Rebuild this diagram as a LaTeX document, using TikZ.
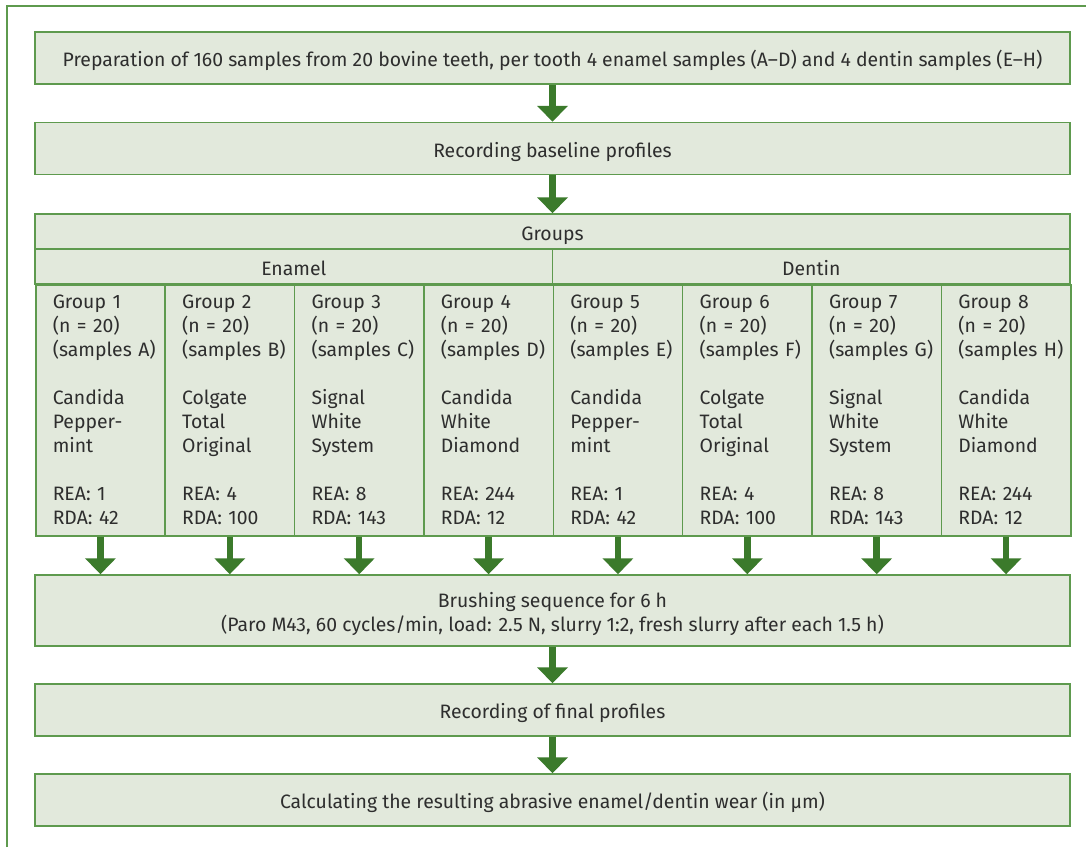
\documentclass[tikz,border=0pt]{standalone}
\usepackage{fontspec}
\setmainfont{Fira Sans}
\usepackage{tikz}
\usetikzlibrary{arrows.meta}
\definecolor{boxfill}{HTML}{E2E9DC}
\definecolor{boxline}{HTML}{5E9A4E}
\definecolor{arrgreen}{HTML}{3B7A2B}
\definecolor{txtgray}{HTML}{2E2E2E}

\begin{document}
\begin{tikzpicture}[x=1pt,y=1pt]
\tikzstyle{every node}+=[inner sep=0pt, text=txtgray, font=\fontsize{19.4}{24}\selectfont]
\tikzstyle{box}=[draw=boxline, fill=boxfill, line width=1.5pt, minimum width=1035pt, align=center, text height=18pt, text depth=1pt]
\tikzstyle{cell}=[draw=boxline, fill=boxfill, line width=1.5pt, anchor=north west, minimum height=251pt, text width=95.375pt, inner xsep=17pt, align=left]
\tikzstyle{flow}=[arrgreen, line width=6.5pt, -{Triangle[width=30pt,length=16pt]}]
\useasboundingbox (0,0) rectangle (1086,-847);
\draw [boxline, line width=1.5pt] (7,-847) -- (7,-6) -- (1086,-6);
% main boxes
\node [box, minimum height=52pt] (prep) at (552.5,-58) {Preparation of 160 samples from 20 bovine teeth, per tooth 4 enamel samples (A–D) and 4 dentin samples (E–H)};
\node [box, minimum height=52pt] (base) at (552.5,-148.5) {Recording baseline profiles};
\node [box, minimum height=35pt] (groups) at (552.5,-231.5) {Groups};
\node [box, minimum width=517.5pt, minimum height=35pt] (enamel) at (293.75,-266.5) {Enamel};
\node [box, minimum width=517.5pt, minimum height=35pt] (dentin) at (811.25,-266.5) {Dentin};
% group cells
\node [cell] (g1) at (35,-284) {Group~1\\(n~=~20)\\(samples~A)\\[24pt]Candida\\Pepper-\\mint\\[24pt]REA:~1\\RDA:~42};
\node [cell] (g2) at (164.375,-284) {Group~2\\(n~=~20)\\(samples~B)\\[24pt]Colgate\\Total\\Original\\[24pt]REA:~4\\RDA:~100};
\node [cell] (g3) at (293.75,-284) {Group~3\\(n~=~20)\\(samples~C)\\[24pt]Signal\\White\\System\\[24pt]REA:~8\\RDA:~143};
\node [cell] (g4) at (423.125,-284) {Group~4\\(n~=~20)\\(samples~D)\\[24pt]Candida\\White\\Diamond\\[24pt]REA:~244\\RDA:~12};
\node [cell] (g5) at (552.5,-284) {Group~5\\(n~=~20)\\(samples~E)\\[24pt]Candida\\Pepper-\\mint\\[24pt]REA:~1\\RDA:~42};
\node [cell] (g6) at (681.875,-284) {Group~6\\(n~=~20)\\(samples~F)\\[24pt]Colgate\\Total\\Original\\[24pt]REA:~4\\RDA:~100};
\node [cell] (g7) at (811.25,-284) {Group~7\\(n~=~20)\\(samples~G)\\[24pt]Signal\\White\\System\\[24pt]REA:~8\\RDA:~143};
\node [cell] (g8) at (940.625,-284) {Group~8\\(n~=~20)\\(samples~H)\\[24pt]Candida\\White\\Diamond\\[24pt]REA:~244\\RDA:~12};
\node [box, minimum height=71pt, text height=43pt, text depth=2pt] (brush) at (552.5,-610.5) {Brushing sequence for 6 h\\(Paro M43, 60 cycles/min, load: 2.5 N, slurry 1:2, fresh slurry after each 1.5 h)};
\node [box, minimum height=52pt] (final) at (552.5,-710) {Recording of final profiles};
\node [box, minimum height=52pt] (calc) at (552.5,-800) {Calculating the resulting abrasive enamel/dentin wear (in µm)};
% arrows
\draw [flow] (prep) -- (base);
\draw [flow] (base) -- (groups);
\draw [flow] (g1.south) -- (g1.south |- brush.north);
\draw [flow] (g2.south) -- (g2.south |- brush.north);
\draw [flow] (g3.south) -- (g3.south |- brush.north);
\draw [flow] (g4.south) -- (g4.south |- brush.north);
\draw [flow] (g5.south) -- (g5.south |- brush.north);
\draw [flow] (g6.south) -- (g6.south |- brush.north);
\draw [flow] (g7.south) -- (g7.south |- brush.north);
\draw [flow] (g8.south) -- (g8.south |- brush.north);
\draw [flow] (brush) -- (final);
\draw [flow] (final) -- (calc);
\end{tikzpicture}
\end{document}
